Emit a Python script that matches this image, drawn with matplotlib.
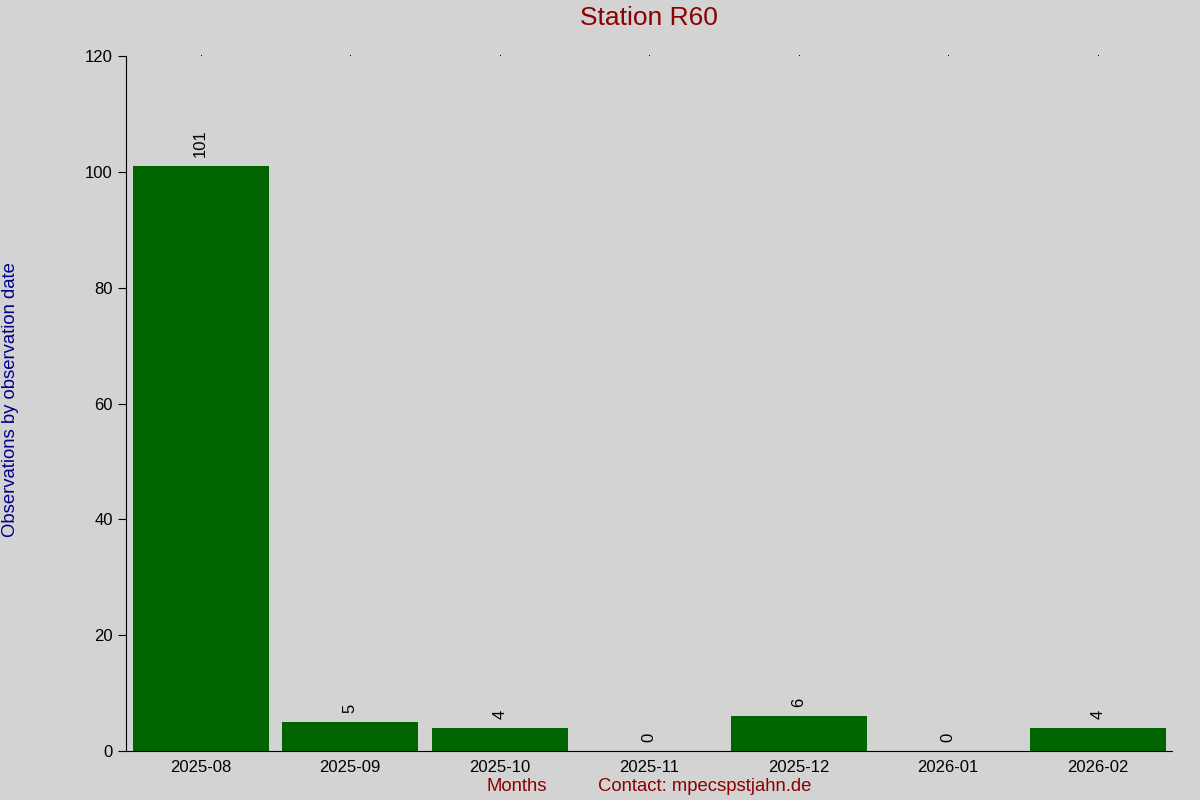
import matplotlib
matplotlib.use("Agg")
import matplotlib.pyplot as plt

months = ["2025-08", "2025-09", "2025-10", "2025-11", "2025-12", "2026-01", "2026-02"]
counts = [101, 5, 4, 0, 6, 0, 4]
y_ticks = [0, 20, 40, 60, 80, 100, 120]

BG = "#d3d3d3"
BAR = "#006400"

plt.rcParams["font.family"] = ["Liberation Sans", "DejaVu Sans"]

fig = plt.figure(figsize=(12, 8), dpi=100, facecolor=BG)
ax = fig.add_axes([0.105, 0.061, 0.872, 0.869])
ax.set_facecolor(BG)

x = list(range(len(months)))
ax.bar(x, counts, width=0.91, color=BAR, zorder=2)
for xi, v in zip(x, counts):
    ax.text(xi, v + 1.6, str(v), rotation=90, ha="center", va="bottom", fontsize=12)

ax.set_xlim(-0.5, len(months) - 0.5)
ax.set_ylim(0, 120)
ax.set_xticks(x)
ax.set_xticklabels(months, fontsize=12)
ax.set_yticks(y_ticks)
ax.tick_params(axis="y", labelsize=12, length=6, direction="out")
ax.tick_params(axis="x", length=0, pad=6)

# tiny dots along the top
for xi in x:
    ax.plot(xi, 120, marker=",", color="black", clip_on=False)

ax.spines["top"].set_visible(False)
ax.spines["right"].set_visible(False)

fig.text(0.541, 0.977, "Station R60", ha="center", va="center", color="#8b0000", fontsize=19)
fig.text(0.002, 0.5, "Observations by observation date", rotation=90,
         ha="left", va="center", color="#00008b", fontsize=13.3)
fig.text(0.431, 0.017, "Months", ha="center", va="center", color="#8b0000", fontsize=13.3)
fig.text(0.587, 0.017, "Contact: mpecspstjahn.de", ha="center", va="center",
         color="#8b0000", fontsize=13.3)

fig.savefig("out.png", dpi=100, facecolor=BG)
